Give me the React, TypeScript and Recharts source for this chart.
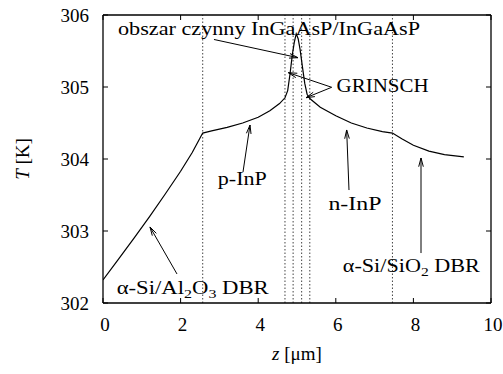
import React from 'react';
import { LineChart, Line, XAxis, YAxis, ReferenceLine, ReferenceDot, Label } from 'recharts';

const FONT = "'Liberation Serif'";

// position z [µm] and temperature T [K]
const zValues = [
  0, 0.4, 0.8, 1.2, 1.6, 2.0, 2.3, 2.57,
  2.8, 3.2, 3.6, 4.0, 4.3, 4.55, 4.69,
  4.76, 4.82, 4.88, 4.93, 4.98, 5.03, 5.08, 5.14, 5.2, 5.26, 5.33,
  5.6, 6.0, 6.4, 6.8, 7.2, 7.46,
  7.7, 8.0, 8.4, 8.8, 9.3,
];
const tValues = [
  302.32, 302.61, 302.9, 303.2, 303.51, 303.83, 304.09, 304.36,
  304.39, 304.44, 304.5, 304.58, 304.67, 304.77, 304.85,
  304.95, 305.18, 305.45, 305.62, 305.74, 305.67, 305.52, 305.28, 305.05, 304.9, 304.84,
  304.72, 304.6, 304.5, 304.43, 304.38, 304.36,
  304.28, 304.19, 304.11, 304.06, 304.03,
];
const layerBounds = [2.57, 4.69, 4.9, 5.12, 5.33, 7.46];
const xTicks = [0, 2, 4, 6, 8, 10];
const yTicks = [302, 303, 304, 305, 306];

// annotation texts: segments [text, isSubscript]
const noteTexts: [string, boolean][][] = [
  [['obszar czynny InGaAsP/InGaAsP', false]],
  [['GRINSCH', false]],
  [['p-InP', false]],
  [['n-InP', false]],
  [['α-Si/Al', false], ['2', true], ['O', false], ['3', true], [' DBR', false]],
  [['α-Si/SiO', false], ['2', true], [' DBR', false]],
];
const noteZ = [0.387, 6.02, 2.96, 5.81, 0.353, 6.18];
const noteT = [305.722, 304.935, 303.639, 303.292, 302.125, 302.435];
const noteWidth = [302, 92, 49, 53, 152, 137];

// arrows: tail -> tip
const arrowFromZ = [2.86, 5.894, 5.894, 3.608, 1.907, 6.34, 8.196];
const arrowFromT = [305.66, 304.996, 304.996, 303.819, 302.403, 303.569, 302.694];
const arrowToZ = [5.026, 4.776, 5.232, 3.789, 1.211, 6.28, 8.196];
const arrowToT = [305.407, 305.199, 304.851, 304.472, 303.056, 304.403, 304.014];

const data = zValues.map((z, i) => ({ z, T: tValues[i] }));

const EmptyTick = () => <g />;

const ArrowShape = (props: any) => {
  const { x1, y1, x2, y2 } = props;
  const th = Math.atan2(y2 - y1, x2 - x1);
  const L = 9;
  const a = 0.26;
  const hx1 = x2 - L * Math.cos(th - a);
  const hy1 = y2 - L * Math.sin(th - a);
  const hx2 = x2 - L * Math.cos(th + a);
  const hy2 = y2 - L * Math.sin(th + a);
  return (
    <g stroke="#000" strokeWidth={1} fill="none">
      <line x1={x1} y1={y1} x2={x2} y2={y2} />
      <polyline points={`${hx1},${hy1} ${x2},${y2} ${hx2},${hy2}`} />
    </g>
  );
};

const makeNote = (idx: number) => (props: any) => {
  const { cx, cy } = props;
  const segs = noteTexts[idx];
  let shifted = false;
  return (
    <text
      x={cx}
      y={cy}
      style={{ fontFamily: FONT, fontSize: 18.5 }}
      fill="#000"
      textLength={noteWidth[idx]}
      lengthAdjust="spacingAndGlyphs"
    >
      {segs.map(([s, sub], k) => {
        let dy = 0;
        if (sub && !shifted) { dy = 4; shifted = true; }
        else if (!sub && shifted) { dy = -4; shifted = false; }
        return (
          <tspan key={k} dy={dy} style={{ fontSize: sub ? 13 : 18.5 }}>{s}</tspan>
        );
      })}
    </text>
  );
};

const YLabel = () => (
  <text
    x={28.5}
    y={159}
    transform="rotate(-90, 28.5, 159)"
    textAnchor="middle"
    style={{ fontFamily: FONT, fontSize: 19 }}
    fill="#000"
  >
    <tspan style={{ fontStyle: 'italic' }}>T</tspan> [K]
  </text>
);

const XLabel = () => (
  <text x={297} y={360} textAnchor="middle" style={{ fontFamily: FONT, fontSize: 19 }} fill="#000">
    <tspan style={{ fontStyle: 'italic' }}>z</tspan> [μm]
  </text>
);

const axisLineStyle = { stroke: '#000', strokeWidth: 1.3 };
const tickLineStyle = { stroke: '#000', strokeWidth: 1 };
const tickText = { fill: '#000', fontSize: 19, style: { fontFamily: FONT, fontSize: 19 } };

export default function App() {
  return (
    <div style={{ position: 'absolute', left: 0, top: 0, width: 503, height: 374, background: '#fff', fontFamily: FONT }}>
      <LineChart width={503} height={374} data={data} margin={{ top: 15, right: 12, bottom: 31, left: 43 }} style={{ fontFamily: FONT }}>
        <XAxis
          xAxisId="b"
          dataKey="z"
          type="number"
          domain={[0, 10]}
          ticks={xTicks}
          orientation="bottom"
          height={40}
          tickSize={0}
          tickMargin={15}
          tickLine={false}
          axisLine={axisLineStyle}
          tick={{ ...tickText, dx: 2 }}
          allowDataOverflow
        >
          <Label content={XLabel} />
        </XAxis>
        <XAxis
          xAxisId="bIn"
          dataKey="z"
          type="number"
          domain={[0, 10]}
          ticks={xTicks}
          orientation="bottom"
          mirror
          tickSize={5}
          tick={EmptyTick}
          axisLine={false}
          tickLine={tickLineStyle}
          allowDataOverflow
        />
        <XAxis
          xAxisId="t"
          dataKey="z"
          type="number"
          domain={[0, 10]}
          ticks={xTicks}
          orientation="top"
          mirror
          tickSize={5}
          tick={EmptyTick}
          axisLine={axisLineStyle}
          tickLine={tickLineStyle}
          allowDataOverflow
        />
        <YAxis
          yAxisId="l"
          type="number"
          domain={[302, 306]}
          ticks={yTicks}
          width={60}
          tickSize={0}
          tickMargin={14}
          tickLine={false}
          axisLine={axisLineStyle}
          tick={tickText}
          allowDataOverflow
        >
          <Label content={YLabel} />
        </YAxis>
        <YAxis
          yAxisId="lIn"
          type="number"
          domain={[302, 306]}
          ticks={yTicks}
          mirror
          tickSize={5}
          tick={EmptyTick}
          axisLine={false}
          tickLine={tickLineStyle}
          allowDataOverflow
        />
        <YAxis
          yAxisId="r"
          type="number"
          orientation="right"
          domain={[302, 306]}
          ticks={yTicks}
          mirror
          tickSize={5}
          tick={EmptyTick}
          axisLine={axisLineStyle}
          tickLine={tickLineStyle}
          allowDataOverflow
        />
        {layerBounds.map((v) => (
          <ReferenceLine
            key={`b${v}`}
            xAxisId="b"
            yAxisId="l"
            x={v}
            stroke="#444"
            strokeWidth={1}
            strokeDasharray="1.5 2"
          />
        ))}
        <Line
          xAxisId="b"
          yAxisId="l"
          dataKey="T"
          type="linear"
          stroke="#000"
          strokeWidth={1.2}
          dot={false}
          isAnimationActive={false}
        />
        {arrowFromZ.map((z, i) => (
          <ReferenceLine
            key={`a${i}`}
            xAxisId="b"
            yAxisId="l"
            segment={[
              { x: z, y: arrowFromT[i] },
              { x: arrowToZ[i], y: arrowToT[i] },
            ]}
            shape={ArrowShape}
          />
        ))}
        {noteZ.map((z, i) => (
          <ReferenceDot
            key={`n${i}`}
            xAxisId="b"
            yAxisId="l"
            x={z}
            y={noteT[i]}
            r={0}
            shape={makeNote(i)}
          />
        ))}
      </LineChart>
    </div>
  );
}
